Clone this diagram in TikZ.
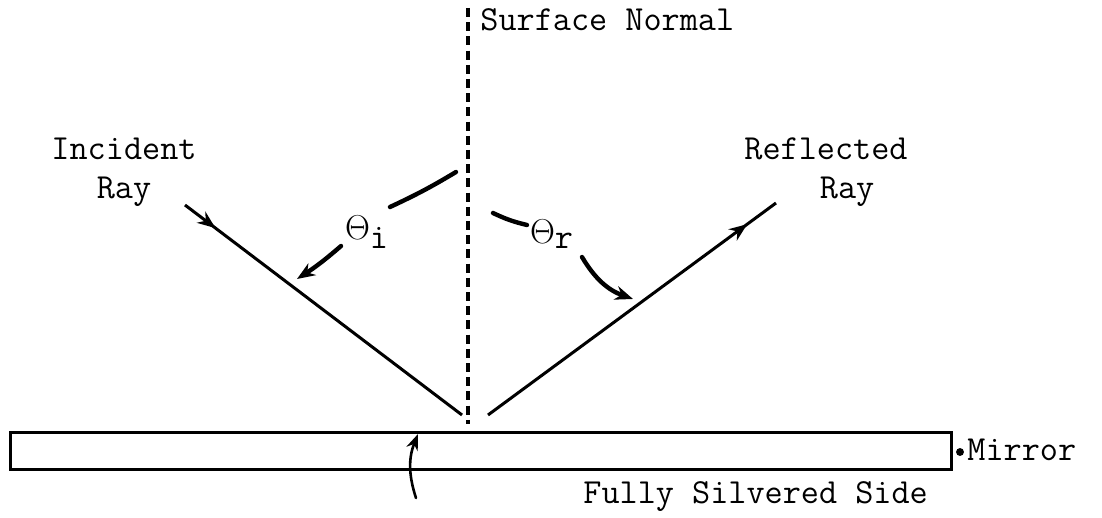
\documentclass[tikz,border=0pt]{standalone}
\usepackage{fontspec}
\usetikzlibrary{arrows.meta,decorations.markings}
\tikzset{
    x=0.5pt, y=-0.5pt,
    font=\fontsize{17.6}{19.5}\ttfamily,
    % --- styles ---
    ray/.style={line width=1.5pt},
    normalline/.style={line width=2.2pt, dash pattern=on 4.5pt off 2.6pt},
    anglestroke/.style={line width=2.2pt, line cap=round},
    anglearrow/.style={line width=2.2pt, line cap=round, -{Stealth[length=9pt,width=7pt]}},
    mirrorbox/.style={draw, line width=1.5pt, minimum width=470.5pt, minimum height=18.5pt, inner sep=0pt},
    % arrow tip part way along a ray
    raymark/.style={postaction={decorate},
                    decoration={markings, mark=at position #1 with {\arrow{Stealth[length=9pt,width=7pt]}}}}
}

\begin{document}
\begin{tikzpicture}
    \useasboundingbox (0,0) rectangle (1102,518);

    % mirror
    \node[mirrorbox] (mirror) at (480.5,450.5) {};
    \filldraw (960,452) circle (3.5);
    \node[anchor=west,inner sep=0pt] (mirrortext) at (967,450) {Mirror};

    % surface normal
    \coordinate (ntop) at (468,8);
    \coordinate (nbot) at (468,424);
    \draw[normalline] (ntop) -- (nbot);
    \node[anchor=west,inner sep=0pt] (normaltext) at (480,20) {Surface Normal};

    % rays
    \coordinate (incstart) at (185,205);
    \coordinate (incend) at (462,415);
    \coordinate (refstart) at (488,415);
    \coordinate (refend) at (776,203);
    \draw[ray,raymark=0.11] (incstart) -- (incend);
    \draw[ray,raymark=0.9] (refstart) -- (refend);

    \node[align=center,inner sep=0pt] (inctext) at (124,172) {Incident\\Ray};
    \node[align=center,inner sep=0pt] (reftext) at (826,172) {Reflected\\\hspace*{1.2em}Ray};

    % angles
    \node[inner sep=0pt] (thi) at (367,232) {$\Theta_{\texttt{i}}$};
    \node[inner sep=0pt] (thr) at (552,234) {$\Theta_{\texttt{r}}$};

    \coordinate (ai1) at (456,172);
    \coordinate (ai2) at (390,207);
    \coordinate (ai3) at (341,246);
    \coordinate (ai4) at (297,279);
    \draw[anglestroke] (ai1) to[bend left=3] (ai2);
    \draw[anglearrow] (ai3) to[bend left=4] (ai4);

    \coordinate (ar1) at (493,213);
    \coordinate (ar2) at (527,225);
    \coordinate (ar3) at (582,257);
    \coordinate (ar4) at (633,299);
    \draw[anglestroke] (ar1) to[bend right=6] (ar2);
    \draw[anglearrow] (ar3) to[bend right=20] (ar4);

    % silvered side
    \coordinate (fs1) at (416,498);
    \coordinate (fs2) at (418,434);
    \draw[line width=1.3pt, line cap=round, -{Stealth[length=8pt,width=6pt]}] (fs1) to[bend left=20] (fs2);
    \node[anchor=west,inner sep=0pt] (fstext) at (583,497) {Fully Silvered Side};
\end{tikzpicture}
\end{document}
